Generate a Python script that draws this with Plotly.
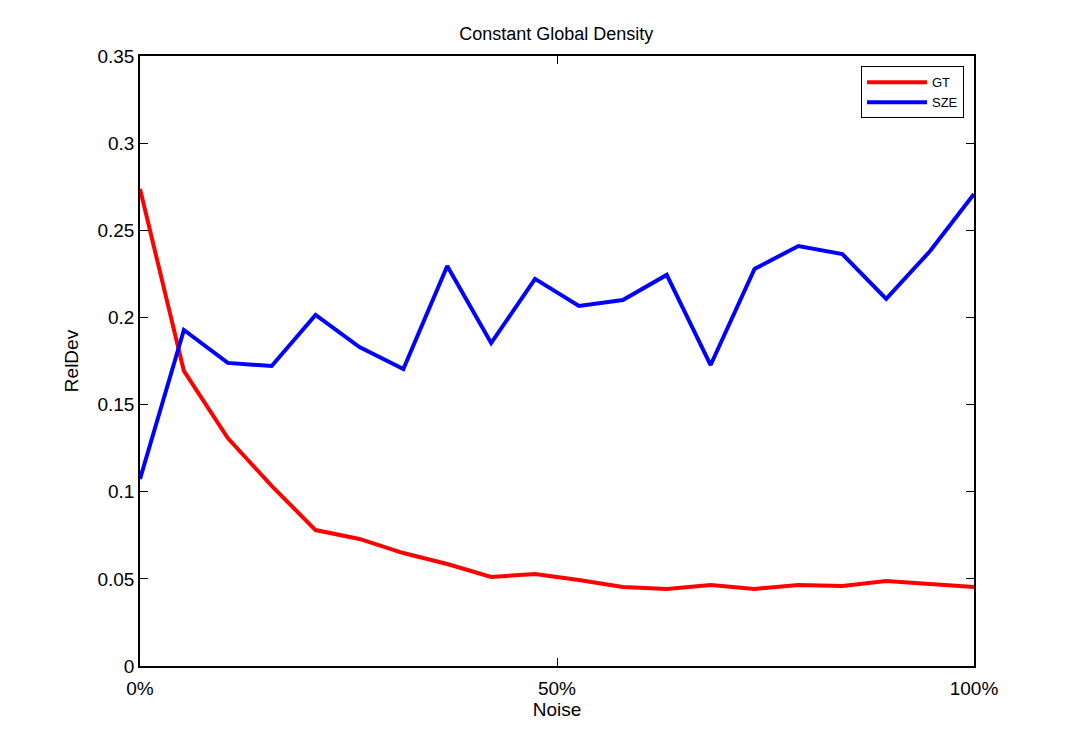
import numpy as np
import plotly.graph_objects as go

noise = [i / 19 for i in range(20)]
gt = [0.2737, 0.1693, 0.1308, 0.1033, 0.0780, 0.0729, 0.0648, 0.0585, 0.0511, 0.0528,
      0.0493, 0.0453, 0.0442, 0.0465, 0.0442, 0.0465, 0.0459, 0.0488, 0.0471, 0.0453]
sze = [0.1073, 0.1928, 0.1739, 0.1721, 0.2014, 0.1830, 0.1704, 0.2295, 0.1853, 0.2221,
       0.2066, 0.2100, 0.2244, 0.1727, 0.2278, 0.2410, 0.2364, 0.2106, 0.2381, 0.2708]
x_ticks = [0, 0.5, 1]
x_labels = ["0%", "50%", "100%"]
y_ticks = [0, 0.05, 0.1, 0.15, 0.2, 0.25, 0.3, 0.35]
y_labels = ["0", "0.05", "0.1", "0.15", "0.2", "0.25", "0.3", "0.35"]

fig = go.Figure()
fig.add_trace(go.Scatter(x=noise, y=gt, mode="lines", name="GT",
                         line=dict(color="#ff0000", width=4)))
fig.add_trace(go.Scatter(x=noise, y=sze, mode="lines", name="SZE",
                         line=dict(color="#0000ff", width=4)))

axis_common = dict(showline=True, linecolor="black", linewidth=1.5, mirror="ticks",
                   ticks="inside", ticklen=8, tickcolor="black", showgrid=False,
                   zeroline=False, tickfont=dict(size=19, color="black"))
fig.update_layout(
    width=1078, height=750,
    margin=dict(l=140, r=104, t=56, b=84),
    paper_bgcolor="white", plot_bgcolor="white",
    font=dict(family="Liberation Sans, Arial, sans-serif", color="black"),
    title=dict(text="Constant Global Density", x=0.516, xanchor="center",
               y=0.955, yanchor="middle", font=dict(size=18)),
    xaxis=dict(range=[0, 1], tickvals=x_ticks, ticktext=x_labels, ticklabelstandoff=4,
               title=dict(text="Noise", font=dict(size=19), standoff=4), **axis_common),
    yaxis=dict(range=[0, 0.35], tickvals=y_ticks, ticktext=y_labels,
               title=dict(text="RelDev", font=dict(size=19), standoff=14), **axis_common),
    legend=dict(x=0.988, y=0.983, xanchor="right", yanchor="top",
                bordercolor="black", borderwidth=1, bgcolor="white",
                font=dict(size=13), tracegroupgap=0, itemwidth=60),
    showlegend=True,
)
fig.write_html("out.html")
